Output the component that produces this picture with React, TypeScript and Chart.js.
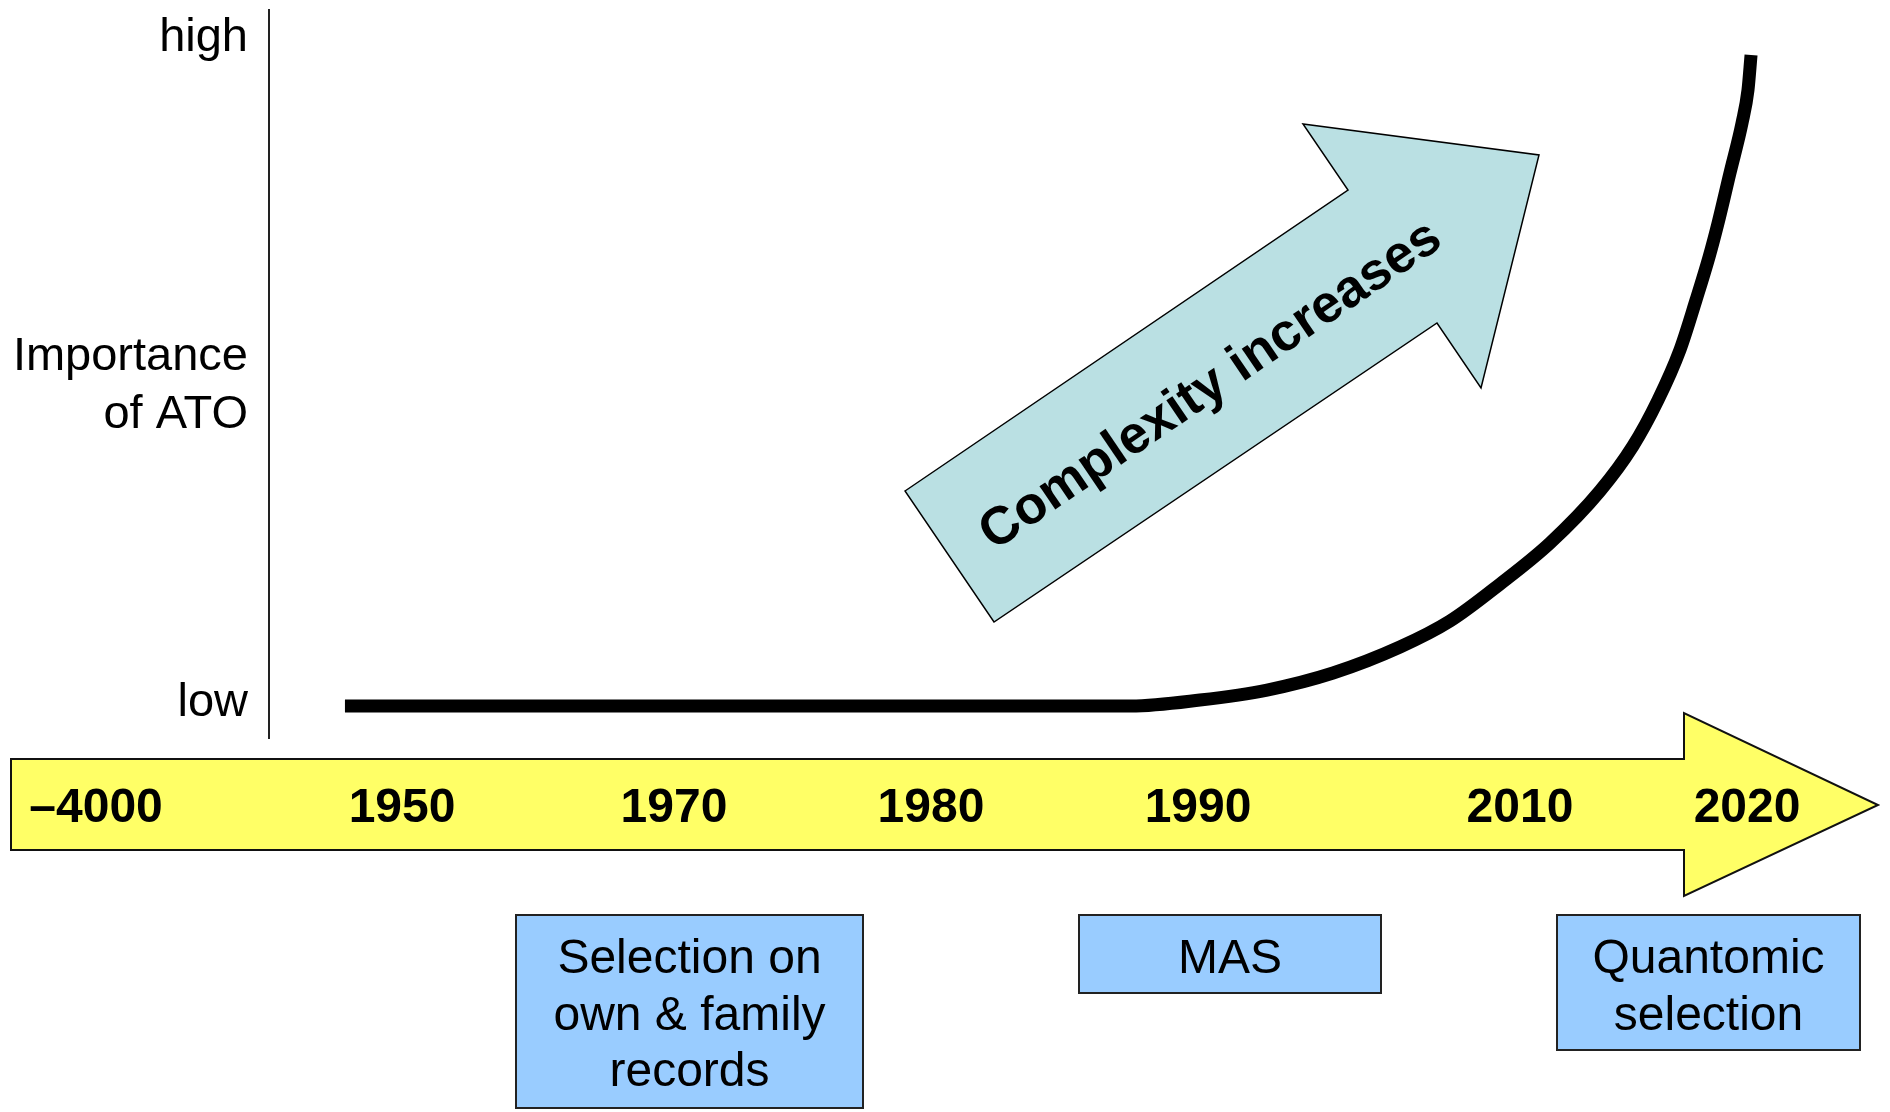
import { useEffect, useRef } from "react";
import { Chart, registerables } from "chart.js";

Chart.register(...registerables);

// Timeline (position units 0..100 along the time axis)
const TIMELINE_LABELS = ["\u20134000", "1950", "1970", "1980", "1990", "2010", "2020"];
const TIMELINE_POS = [-10.75, 8.27, 25.17, 41.14, 57.74, 77.75, 91.86];

// Importance of ATO curve
const CURVE_X = [4.72, 53.57, 57.86, 62.03, 66.13, 70.29, 73.4, 76.51, 79.62, 82.72, 84.77, 86.33, 87.69, 88.69, 89.5, 90.06, 90.8, 91.55, 91.92, 92.11];
const CURVE_Y = [4.4, 4.4, 5.22, 6.59, 8.93, 12.5, 16.07, 21.15, 26.79, 33.93, 40.11, 46.43, 53.3, 60.16, 66.07, 70.74, 77.61, 84.48, 89.01, 93.82];

// Y axis ticks
const Y_TICK_VALUES = [4.76, 48.3, 96.1];
const Y_TICK_LABELS: (string | string[])[] = ["low", ["Importance", "of ATO"], "high"];

// Stage boxes
const STAGE_LABELS = [["Selection on", "own & family", "records"], ["MAS"], ["Quantomic", "selection"]];
const ARROW_TEXT = "Complexity increases";

const FONT = "'Liberation Sans', Arial, sans-serif";

const decorPlugin = {
  id: "decor",
  beforeDraw(chart: any) {
    const ctx = chart.ctx as CanvasRenderingContext2D;
    ctx.save();
    ctx.fillStyle = "#ffffff";
    ctx.fillRect(0, 0, chart.width, chart.height);

    // Yellow timeline arrow
    ctx.beginPath();
    ctx.moveTo(11, 759);
    ctx.lineTo(1684, 759);
    ctx.lineTo(1684, 713);
    ctx.lineTo(1878, 805);
    ctx.lineTo(1684, 896);
    ctx.lineTo(1684, 850);
    ctx.lineTo(11, 850);
    ctx.closePath();
    ctx.fillStyle = "#FFFF66";
    ctx.fill();
    ctx.lineWidth = 2;
    ctx.strokeStyle = "#111";
    ctx.lineJoin = "miter";
    ctx.stroke();

    // Complexity arrow
    const pts = [
      [905, 491], [1348, 190], [1303, 124], [1539, 155], [1481, 388], [1437, 323], [994, 622],
    ];
    ctx.beginPath();
    pts.forEach(([x, y], i) => (i === 0 ? ctx.moveTo(x, y) : ctx.lineTo(x, y)));
    ctx.closePath();
    ctx.fillStyle = "#BAE0E3";
    ctx.fill();
    ctx.lineWidth = 1.5;
    ctx.strokeStyle = "#000";
    ctx.stroke();

    // Stage boxes
    const boxes = [
      { x: 516, y: 915, w: 347, h: 193 },
      { x: 1079, y: 915, w: 302, h: 78 },
      { x: 1557, y: 915, w: 303, h: 135 },
    ];
    boxes.forEach((b, i) => {
      ctx.fillStyle = "#99CCFF";
      ctx.fillRect(b.x, b.y, b.w, b.h);
      ctx.lineWidth = 2;
      ctx.strokeStyle = "#222";
      ctx.strokeRect(b.x, b.y, b.w, b.h);
      ctx.fillStyle = "#000";
      ctx.font = `48px ${FONT}`;
      ctx.textAlign = "center";
      ctx.textBaseline = "alphabetic";
      STAGE_LABELS[i].forEach((line, j) => {
        ctx.fillText(line, b.x + b.w / 2, 973 + j * 56.5);
      });
    });
    ctx.restore();
  },
  afterDraw(chart: any) {
    const ctx = chart.ctx as CanvasRenderingContext2D;
    const xs = chart.scales.x;
    ctx.save();
    // Timeline labels
    ctx.fillStyle = "#000";
    ctx.font = `bold 48px ${FONT}`;
    ctx.textAlign = "center";
    ctx.textBaseline = "alphabetic";
    TIMELINE_LABELS.forEach((lab, i) => {
      ctx.fillText(lab, xs.getPixelForValue(TIMELINE_POS[i]), 822);
    });
    // Complexity arrow text
    ctx.translate(1211, 386);
    ctx.rotate(-Math.atan2(301, 443));
    ctx.font = `bold 53px ${FONT}`;
    ctx.textAlign = "center";
    ctx.textBaseline = "middle";
    ctx.fillText(ARROW_TEXT, 0, 0);
    ctx.restore();
  },
};

export default function App() {
  const ref = useRef<HTMLCanvasElement>(null);
  useEffect(() => {
    if (!ref.current) return;
    const data = CURVE_X.map((x, i) => ({ x, y: CURVE_Y[i] }));
    const chart = new Chart(ref.current, {
      type: "line",
      data: {
        datasets: [
          {
            data,
            borderColor: "#000",
            borderWidth: 13,
            pointRadius: 0,
            cubicInterpolationMode: "monotone",
            borderCapStyle: "butt",
            borderJoinStyle: "round",
            fill: false,
            clip: false,
          } as any,
        ],
      },
      options: {
        responsive: false,
        animation: false,
        devicePixelRatio: 1,
        layout: { padding: { left: 0, right: 12, top: 10, bottom: 374 } },
        plugins: { legend: { display: false }, tooltip: { enabled: false } },
        scales: {
          x: { type: "linear", min: 0, max: 100, display: false },
          y: {
            type: "linear",
            min: 0,
            max: 100,
            grid: { display: false, drawTicks: false },
            border: { display: true, color: "#222", width: 2 },
            afterFit: (scale: any) => {
              scale.width = 269;
              scale.paddingTop = 0;
              scale.paddingBottom = 0;
            },
            afterBuildTicks: (scale: any) => {
              scale.ticks = Y_TICK_VALUES.map((v) => ({ value: v }));
            },
            ticks: {
              autoSkip: false,
              padding: 21,
              color: "#000",
              font: { family: FONT, size: 47, lineHeight: 1.24 },
              callback: (_v: any, i: number) => Y_TICK_LABELS[i],
            },
          },
        },
      },
      plugins: [decorPlugin],
    });
    return () => chart.destroy();
  }, []);
  return (
    <div style={{ position: "absolute", left: 0, top: 0, width: 1890, height: 1112 }}>
      <canvas ref={ref} width={1890} height={1112} style={{ display: "block" }} />
    </div>
  );
}
